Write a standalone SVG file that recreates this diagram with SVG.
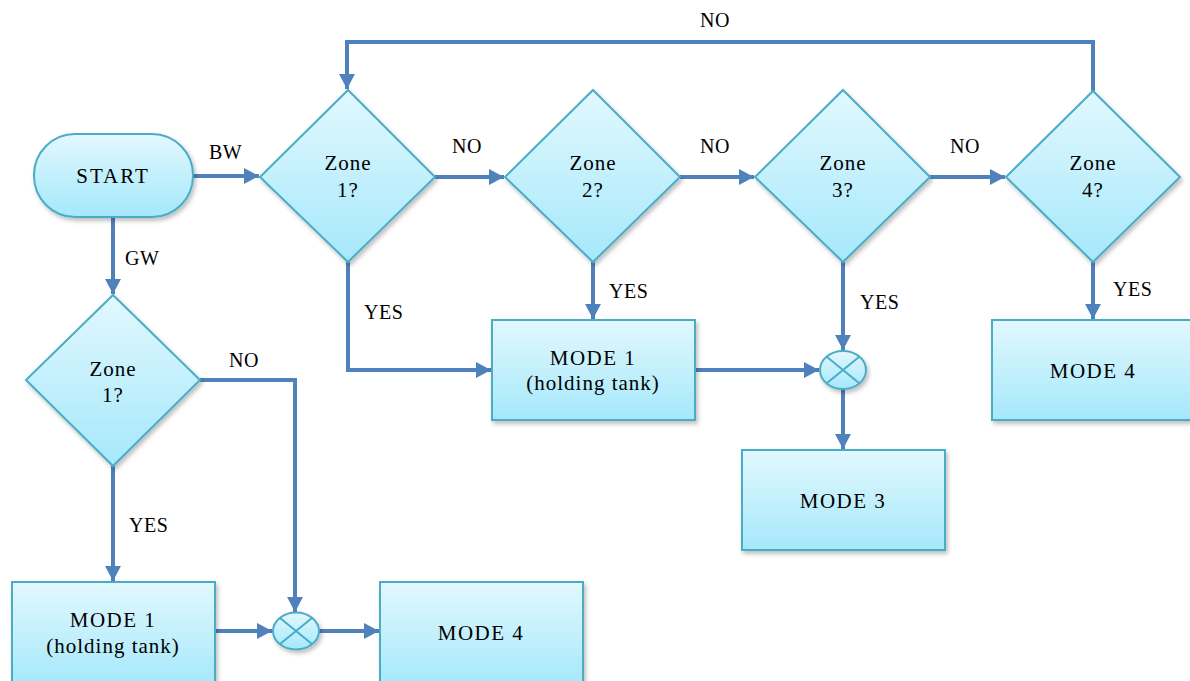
<svg xmlns="http://www.w3.org/2000/svg" width="1190" height="681" viewBox="0 0 1190 681">
<defs>
<linearGradient id="g" x1="0" y1="0" x2="0" y2="1">
<stop offset="0" stop-color="#e2f8fe"/>
<stop offset="1" stop-color="#a5e8fb"/>
</linearGradient>
<filter id="sh" x="-10%" y="-10%" width="125%" height="130%">
<feDropShadow dx="2" dy="3" stdDeviation="2" flood-color="#000" flood-opacity="0.25"/>
</filter>
<marker id="ah" markerUnits="userSpaceOnUse" markerWidth="16" markerHeight="16" refX="15" refY="8" orient="auto">
<path d="M0,0 L15,8 L0,16 Z" fill="#4f81bd"/>
</marker>
</defs>
<style>
.n{fill:url(#g);stroke:#4bacc6;stroke-width:2;filter:url(#sh)}
.t{font-size:21px;fill:#000;text-anchor:middle;letter-spacing:1px}
.m{letter-spacing:1.5px}
.l{font-size:20px;fill:#000;letter-spacing:0.5px}
.c{fill:none;stroke:#4f81bd;stroke-width:4;marker-end:url(#ah)}
.x{stroke:#4bacc6;stroke-width:2;fill:none}
</style>
<rect width="1190" height="681" fill="#fff"/>
<g font-family="Liberation Serif, Times New Roman, DejaVu Serif, serif">
<g id="connectors">
<path class="c" d="M193,176 H259"/>
<path class="c" d="M113,217 V294"/>
<path class="c" d="M435,177 H504"/>
<path class="c" d="M680,177 H754"/>
<path class="c" d="M930,177 H1005"/>
<path class="c" d="M1093,91 V42 H347 V89"/>
<path class="c" d="M348,262 V370 H491"/>
<path class="c" d="M593,262 V319"/>
<path class="c" d="M843,262 V350"/>
<path class="c" d="M1093,262 V319"/>
<path class="c" d="M695,370 H819"/>
<path class="c" d="M843,389 V449"/>
<path class="c" d="M200,380 H295 V612"/>
<path class="c" d="M113,466 V581"/>
<path class="c" d="M215,631 H272"/>
<path class="c" d="M319,631 H379"/>
<text class="l" x="209" y="159">BW</text>
<text class="l" x="125" y="265">GW</text>
<text class="l" x="452" y="153">NO</text>
<text class="l" x="700" y="153">NO</text>
<text class="l" x="950" y="153">NO</text>
<text class="l" x="700" y="27">NO</text>
<text class="l" x="364" y="319">YES</text>
<text class="l" x="609" y="298">YES</text>
<text class="l" x="860" y="309">YES</text>
<text class="l" x="1113" y="296">YES</text>
<text class="l" x="229" y="367">NO</text>
<text class="l" x="129" y="532">YES</text>
</g>
<g id="start">
<rect class="n" x="34" y="134" width="159" height="83" rx="41" ry="41"/>
<text class="t" x="113" y="183" style="letter-spacing:2px">START</text>
</g>
<g id="zone1-bw">
<polygon class="n" points="348,90 435,177 348,262 260,177"/>
<text class="t" x="348" y="170">Zone</text>
<text class="t" x="348" y="197">1?</text>
</g>
<g id="zone2">
<polygon class="n" points="593,90 680,177 593,262 505,177"/>
<text class="t" x="593" y="170">Zone</text>
<text class="t" x="593" y="197">2?</text>
</g>
<g id="zone3">
<polygon class="n" points="843,90 930,177 843,262 755,177"/>
<text class="t" x="843" y="170">Zone</text>
<text class="t" x="843" y="197">3?</text>
</g>
<g id="zone4">
<polygon class="n" points="1093,91 1180,177 1093,262 1006,177"/>
<text class="t" x="1093" y="170">Zone</text>
<text class="t" x="1093" y="197">4?</text>
</g>
<g id="mode1-bw">
<rect class="n" x="492" y="320" width="203" height="100"/>
<text class="t m" x="593" y="365">MODE 1</text>
<text class="t" x="593" y="390">(holding tank)</text>
</g>
<g id="join-bw">
<ellipse class="n" cx="843" cy="370" rx="23" ry="19"/>
<path class="x" d="M827,357 L859,383 M859,357 L827,383"/>
</g>
<g id="mode3">
<rect class="n" x="742" y="450" width="203" height="100"/>
<text class="t m" x="843" y="508">MODE 3</text>
</g>
<g id="mode4-bw">
<rect class="n" x="992" y="320" width="203" height="100"/>
<text class="t m" x="1093" y="378">MODE 4</text>
</g>
<g id="zone1-gw">
<polygon class="n" points="113,295 200,380 113,466 26,380"/>
<text class="t" x="113" y="376">Zone</text>
<text class="t" x="113" y="402">1?</text>
</g>
<g id="mode1-gw">
<rect class="n" x="12" y="582" width="203" height="104"/>
<text class="t m" x="113" y="627">MODE 1</text>
<text class="t" x="113" y="653">(holding tank)</text>
</g>
<g id="join-gw">
<ellipse class="n" cx="296" cy="631" rx="23" ry="18.5"/>
<path class="x" d="M280,618 L312,644 M312,618 L280,644"/>
</g>
<g id="mode4-gw">
<rect class="n" x="380" y="582" width="203" height="104"/>
<text class="t m" x="481" y="640">MODE 4</text>
</g>
</g>
</svg>
